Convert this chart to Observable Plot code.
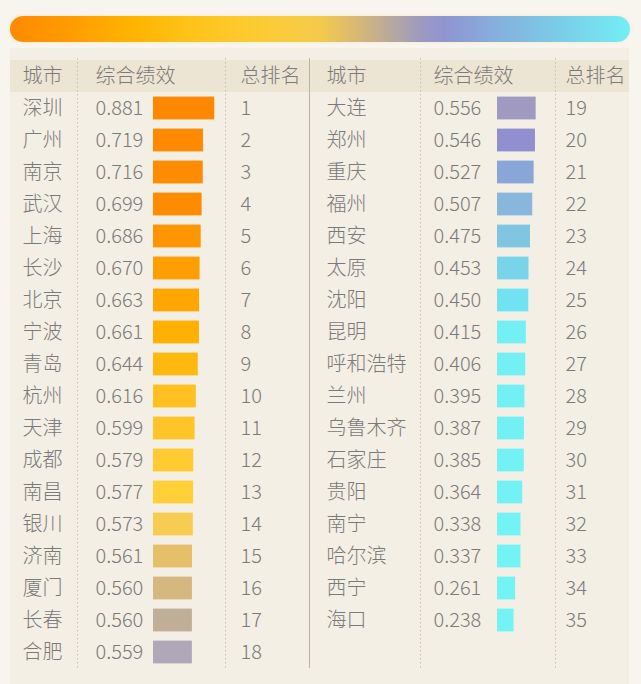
<!DOCTYPE html>
<html><head><meta charset="utf-8">
<script src="https://cdn.jsdelivr.net/npm/d3@7"></script>
<script src="https://cdn.jsdelivr.net/npm/@observablehq/plot@0.6"></script>
<style>
body{margin:0;background:#f8f5ee;}
#wrap{position:relative;width:641px;height:684px;}
#wrap svg{position:absolute;left:0;top:0;}
#grad{position:absolute;left:10px;top:16px;width:620px;height:26px;border-radius:13px;
background:linear-gradient(to right,#ff8a00 0%,#ff9c00 10%,#ffb400 20%,#ffc41c 30%,#fbcc38 42%,#f4ca4c 50%,#d8b874 56%,#baaa9a 61%,#9a98c4 67%,#9094d0 70%,#86aedc 78%,#7cc8e6 87%,#72eef4 100%);
box-shadow:0 0 3px rgba(255,200,120,0.35);}
</style></head><body><div id="wrap"></div>
<script>
const leftCities = ["深圳","广州","南京","武汉","上海","长沙","北京","宁波","青岛","杭州","天津","成都","南昌","银川","济南","厦门","长春","合肥"];
const leftValues = [0.881,0.719,0.716,0.699,0.686,0.670,0.663,0.661,0.644,0.616,0.599,0.579,0.577,0.573,0.561,0.560,0.560,0.559];
const rightCities = ["大连","郑州","重庆","福州","西安","太原","沈阳","昆明","呼和浩特","兰州","乌鲁木齐","石家庄","贵阳","南宁","哈尔滨","西宁","海口"];
const rightValues = [0.556,0.546,0.527,0.507,0.475,0.453,0.450,0.415,0.406,0.395,0.387,0.385,0.364,0.338,0.337,0.261,0.238];
const headers = ["城市","综合绩效","总排名"];

// colour ramp stops by rank (matches the gradient strip)
const rampRanks = [1,4,6,8,10,13,14,15,16,17,18,19,20,21,22,23,24,25,26,35];
const rampColors = ["#ff8800","#ff8c00","#ff9e00","#ffb000","#ffc020","#ffd038","#f8cc50","#e6c068","#d4b880","#c0ae98","#b0a8b8","#a09ac0","#9090d0","#88a6d8","#88b6dc","#80c6e2","#78d4ea","#70e2f2","#72f0f4","#72f4f4"];

const K = 69.5; // px per unit of score
const u = px => px / K;
const col = {
  city: [22, 326], value: [95, 433], bar: [153, 497], rank: [240, 565]
};

const rows = [
  ...leftCities.map((c, i) => ({city: c, value: leftValues[i], rank: i + 1, row: "r" + i, side: 0})),
  ...rightCities.map((c, i) => ({city: c, value: rightValues[i], rank: 19 + i, row: "r" + i, side: 1}))
];
const headerRows = [0, 1].flatMap(side => headers.map((h, j) => ({h, side, j})));
const headerX = (d) => [col.city, col.value, col.rank][d.j][d.side];

const yDomain = ["h", ...d3.range(18).map(i => "r" + i)];
const step = 32.24;
const font = "'Noto Sans CJK SC', 'Noto Sans', sans-serif";
const txt = "#7a7a7a";

const plot = Plot.plot({
  width: 641, height: 684,
  margin: 0,
  style: {background: "transparent", fontFamily: font},
  x: {type: "linear", domain: [0, u(641)], range: [0, 641], axis: null},
  y: {type: "band", domain: yDomain, range: [58, 58 + 19 * step], padding: 0, axis: null},
  color: {type: "linear", domain: rampRanks, range: rampColors, interpolate: "rgb"},
  marks: [
    Plot.barX([0], {x1: () => u(10), x2: () => u(629), fill: "#f4efe4", insetTop: 48}),
    Plot.barX(["h"], {x1: () => u(10), x2: () => u(629), y: d => d, fill: "#ede5d3"}),
    Plot.ruleX([77, 225, 420, 555].map(u), {stroke: "#c9c0ae", strokeDasharray: "1.5,2.5", insetTop: 58, insetBottom: 16}),
    Plot.ruleX([u(309)], {stroke: "#bcb3a2", insetTop: 58, insetBottom: 16}),
    Plot.barX(rows, {
      x1: d => u(col.bar[d.side]),
      x2: d => u(col.bar[d.side]) + d.value,
      y: "row", fill: "rank", insetTop: 4.6, insetBottom: 4.6
    }),
    Plot.text(headerRows, {x: d => u(headerX(d)), y: () => "h", text: "h", textAnchor: "start", fontSize: 20, fontWeight: 300, fill: txt}),
    Plot.text(rows, {x: d => u(col.city[d.side]), y: "row", text: "city", textAnchor: "start", fontSize: 20, fontWeight: 300, fill: txt}),
    Plot.text(rows, {x: d => u(col.value[d.side]), y: "row", text: d => d3.format(".3f")(d.value), textAnchor: "start", fontSize: 20, fontWeight: 300, fill: txt}),
    Plot.text(rows, {x: d => u(col.rank[d.side]), y: "row", text: d => String(d.rank), textAnchor: "start", fontSize: 20, fontWeight: 300, fill: txt})
  ]
});
const wrap = document.getElementById("wrap");
wrap.appendChild(plot);
const g = document.createElement("div");
g.id = "grad";
wrap.appendChild(g);
</script>
</body></html>
